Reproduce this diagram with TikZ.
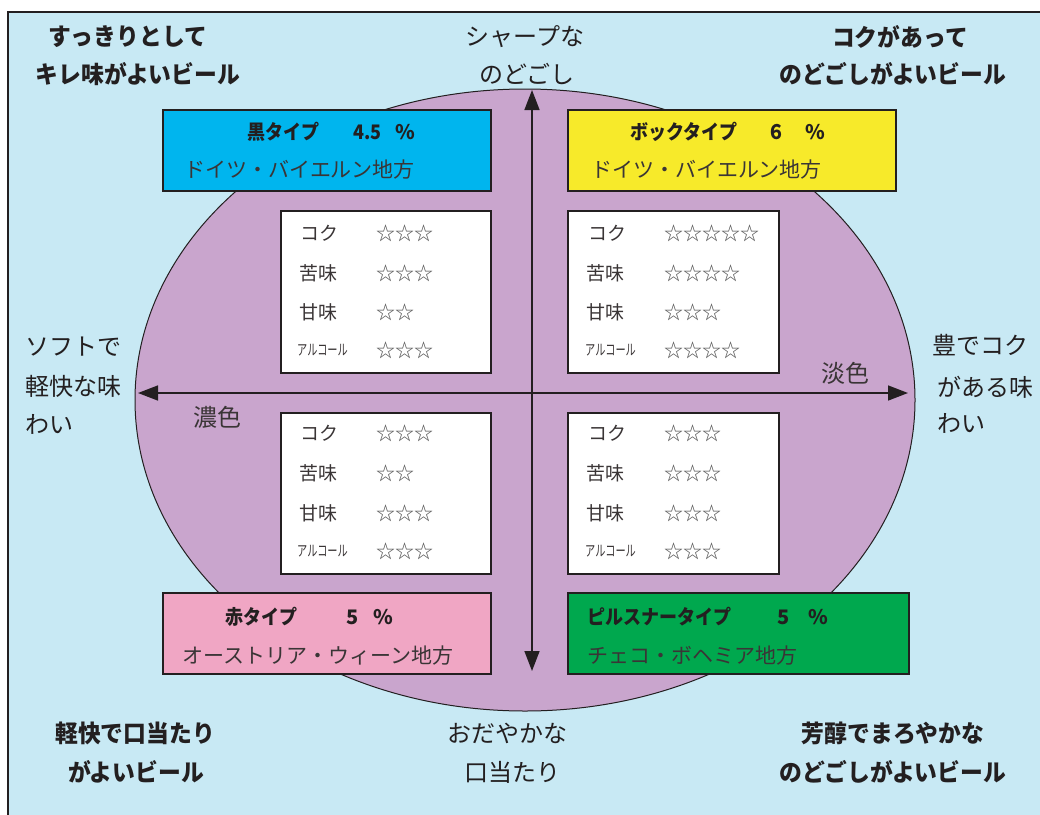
\documentclass[tikz,border=0pt]{standalone}
\usepackage{fontspec}
\usepackage{graphicx}
\setmainfont{Noto Sans CJK JP}
\usetikzlibrary{arrows.meta}
\definecolor{bgblue}{HTML}{C8E9F4}
\definecolor{ellpurple}{HTML}{C9A5CD}
\definecolor{kuro}{HTML}{00B5EE}
\definecolor{bock}{HTML}{F7EA2A}
\definecolor{aka}{HTML}{F0A6C4}
\definecolor{pils}{HTML}{00A84E}
\definecolor{ink}{HTML}{231F20}
\definecolor{soft}{HTML}{3A3536}
\definecolor{stargray}{HTML}{555555}
\newcommand{\cond}[1]{\scalebox{0.95}[1]{#1}}
\newcommand{\hcond}[1]{\scalebox{0.9}[1]{#1}}
\begin{document}
\begin{tikzpicture}[x=1pt,y=-1pt,
  corner/.style={font=\fontsize{24}{28}\selectfont\bfseries, text=ink, inner sep=0, anchor=center},
  axislab/.style={font=\fontsize{24}{28}\selectfont, text=ink, inner sep=0},
  typebox/.style={draw=ink, line width=1.2pt},
  head/.style={font=\fontsize{20}{24}\selectfont\bfseries, text=ink, inner sep=0, anchor=west},
  sub/.style={font=\fontsize{21}{24}\selectfont, text=soft, inner sep=0, anchor=west},
  tbox/.style={draw=ink, fill=white, line width=1.2pt},
  tlab/.style={font=\fontsize{19}{22}\selectfont, text=soft, inner sep=0, anchor=west},
  stars/.style={font=\fontsize{19}{22}\selectfont, text=stargray, inner sep=0, anchor=west},
  arr/.style={line width=1.5pt, draw=ink, -{Triangle[length=20pt,width=15pt]}}]
\useasboundingbox (0,0) rectangle (1040,814);
% frame
\draw[fill=bgblue, draw=ink, line width=1.8pt] (8,12) rectangle (1060,830);
% ellipse
\draw[fill=ellpurple, draw=ink, line width=1pt] (525,400) ellipse [x radius=390, y radius=311];
% axes
\coordinate (hl) at (138,393);
\coordinate (hr) at (908,393);
\coordinate (hc) at (532,393);
\coordinate (vt) at (532,90);
\coordinate (vb) at (532,671);
\coordinate (vc) at (532,393);
\draw[arr] (hc) -- (hl);
\draw[arr] (hc) -- (hr);
\draw[arr] (vc) -- (vt);
\draw[arr] (vc) -- (vb);
% type boxes
\draw[typebox, fill=kuro] (163,110) rectangle (491,191);
\draw[typebox, fill=bock] (568,110) rectangle (896,191);
\draw[typebox, fill=aka] (163,593) rectangle (491,674);
\draw[typebox, fill=pils] (568,593) rectangle (909,674);
% headers
\node[head] (h1a) at (247,132) {\hcond{黒タイプ}};
\node[head] (h1b) at (353,132) {\hcond{4.5}};
\node[head] (h1c) at (395,132) {\%};
\node[sub] (s1) at (184,170) {ドイツ・バイエルン地方};
\node[head] (h2a) at (630,132) {\hcond{ボックタイプ}};
\node[head] (h2b) at (767,132) {\hcond{６}};
\node[head] (h2c) at (805,132) {\%};
\node[sub] (s2) at (591,170) {ドイツ・バイエルン地方};
\node[head] (h3a) at (225,617) {\hcond{赤タイプ}};
\node[head] (h3b) at (346,617) {5};
\node[head] (h3c) at (373,617) {\%};
\node[sub] (s3) at (182,656) {オーストリア・ウィーン地方};
\node[head] (h4a) at (587,617) {\hcond{ピルスナータイプ}};
\node[head] (h4b) at (777,617) {5};
\node[head] (h4c) at (808,617) {\%};
\node[sub] (s4) at (587,656) {チェコ・ボヘミア地方};
% tables
\draw[tbox] (281,211) rectangle (491,373);
\draw[tbox] (568,211) rectangle (779,373);
\draw[tbox] (281,413) rectangle (491,574);
\draw[tbox] (568,413) rectangle (779,574);
% TL
\node[tlab] (a1) at (300,233) {コク};
\node[tlab] (a2) at (299,273) {苦味};
\node[tlab] (a3) at (299,312) {甘味};
\node[tlab] (a4) at (297,350) {\fontsize{15}{18}\selectfont\scalebox{0.68}[1]{アルコール}};
\node[stars] (as1) at (376,233) {☆☆☆};
\node[stars] (as2) at (376,273) {☆☆☆};
\node[stars] (as3) at (376,312) {☆☆};
\node[stars] (as4) at (376,350) {☆☆☆};
% TR
\node[tlab] (b1) at (588,233) {コク};
\node[tlab] (b2) at (586,273) {苦味};
\node[tlab] (b3) at (586,312) {甘味};
\node[tlab] (b4) at (585,350) {\fontsize{15}{18}\selectfont\scalebox{0.68}[1]{アルコール}};
\node[stars] (bs1) at (664,233) {☆☆☆☆☆};
\node[stars] (bs2) at (664,273) {☆☆☆☆};
\node[stars] (bs3) at (664,312) {☆☆☆};
\node[stars] (bs4) at (664,350) {☆☆☆☆};
% BL
\node[tlab] (c1) at (300,433) {コク};
\node[tlab] (c2) at (299,473) {苦味};
\node[tlab] (c3) at (299,513) {甘味};
\node[tlab] (c4) at (297,551) {\fontsize{15}{18}\selectfont\scalebox{0.68}[1]{アルコール}};
\node[stars] (cs1) at (376,433) {☆☆☆};
\node[stars] (cs2) at (376,473) {☆☆};
\node[stars] (cs3) at (376,513) {☆☆☆};
\node[stars] (cs4) at (376,551) {☆☆☆};
% BR
\node[tlab] (d1) at (588,433) {コク};
\node[tlab] (d2) at (586,473) {苦味};
\node[tlab] (d3) at (586,513) {甘味};
\node[tlab] (d4) at (585,551) {\fontsize{15}{18}\selectfont\scalebox{0.68}[1]{アルコール}};
\node[stars] (ds1) at (664,433) {☆☆☆};
\node[stars] (ds2) at (664,473) {☆☆☆};
\node[stars] (ds3) at (664,513) {☆☆☆};
\node[stars] (ds4) at (664,551) {☆☆☆};
% corner labels
\node[corner] (tl1) at (128,37) {\cond{すっきりとして}};
\node[corner] (tl2) at (138,74) {\cond{キレ味がよいビール}};
\node[corner] (tr1) at (900,37) {\cond{コクがあって}};
\node[corner] (tr2) at (893,74) {\cond{のどごしがよいビール}};
\node[corner] (bl1) at (135,733) {\cond{軽快で口当たり}};
\node[corner] (bl2) at (136,772) {\cond{がよいビール}};
\node[corner] (br1) at (893,733) {\cond{芳醇でまろやかな}};
\node[corner] (br2) at (893,772) {\cond{のどごしがよいビール}};
% axis labels
\node[axislab] (t1) at (525,37) {シャープな};
\node[axislab] (t2) at (527,74) {のどごし};
\node[axislab] (b1x) at (507,733) {おだやかな};
\node[axislab] (b2x) at (512,772) {口当たり};
\node[axislab, anchor=west] (l1) at (25,347) {ソフトで};
\node[axislab, anchor=west] (l2) at (25,386) {軽快な味};
\node[axislab, anchor=west] (l3) at (25,424) {わい};
\node[axislab, anchor=west] (r1) at (932,345) {豊でコク};
\node[axislab, anchor=west] (r2) at (937,387) {がある味};
\node[axislab, anchor=west] (r3) at (937,423) {わい};
\node[axislab, anchor=west, text=soft] (noushoku) at (193,417) {濃色};
\node[axislab, anchor=west, text=soft] (tanshoku) at (821,373) {淡色};
\end{tikzpicture}
\end{document}
